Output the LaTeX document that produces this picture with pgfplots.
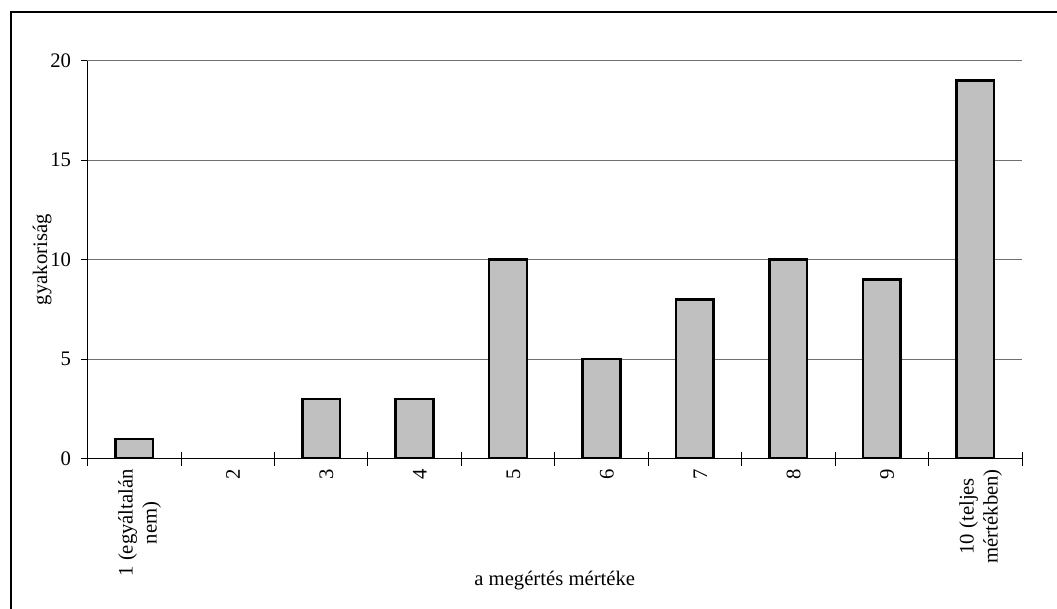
\documentclass[border=0pt]{standalone}
\usepackage{pgfplots}
\pgfplotsset{compat=1.18}
\usepackage{fontspec}
\setmainfont{Liberation Serif}
\definecolor{barfill}{HTML}{C0C0C0}
\definecolor{gridc}{HTML}{707070}
\newcommand{\lblfont}{\fontsize{15.5}{18}\selectfont}
\begin{document}
\lblfont
\begin{tikzpicture}[font=\lblfont]
\begin{axis}[
  at={(65.6pt,112pt)}, anchor=south west,
  scale only axis, width=700.9pt, height=298.5pt,
  xmin=0.5, xmax=10.5, ymin=0, ymax=20,
  axis x line=bottom, axis y line=left,
  axis line style={-, line width=0.6pt, black},
  ytick={0,5,10,15,20},
  ymajorgrids,
  grid style={gridc, line width=0.8pt},
  xtick={1,2,3,4,5,6,7,8,9,10},
  xticklabels={{1 (egyáltalán\\nem)},2,3,4,5,6,7,8,9,{10 (teljes\\mértékben)}},
  minor xtick={0.5,1.5,2.5,3.5,4.5,5.5,6.5,7.5,8.5,9.5,10.5},
  major x tick style={draw=none},
  tick align=center,
  minor tick length=10.5pt,
  major tick length=5pt,
  tick style={black, line width=0.6pt},
  y tick style={xshift=-2.5pt},
  /pgf/number format/assume math mode=true,
  tick label style={font=\lblfont},
  label style={font=\lblfont},
  yticklabel style={xshift=-4.5pt},
  xticklabel style={rotate=90, anchor=east, align=center, yshift=-4pt, font=\lblfont},
  xlabel={a megértés mértéke},
  ylabel={gyakoriság},
  every axis x label/.style={at={(axis description cs:0.5,-0.307)}, anchor=center},
  every axis y label/.style={at={(axis description cs:-0.0485,0.5)}, rotate=90, anchor=center},
]
\addplot[ybar, bar width=28.2pt, fill=barfill, draw=black, line width=1.9pt,
  restrict y to domain=0.01:100]
  coordinates {(1,1) (2,0) (3,3) (4,3) (5,10) (6,5) (7,8) (8,10) (9,9) (10,19)};
\end{axis}
\draw[line width=1.5pt] (8.25pt,447pt) rectangle (805pt,-10pt);
\pgfresetboundingbox
\useasboundingbox (0,0) rectangle (792.75pt,456pt);
\end{tikzpicture}
\end{document}
